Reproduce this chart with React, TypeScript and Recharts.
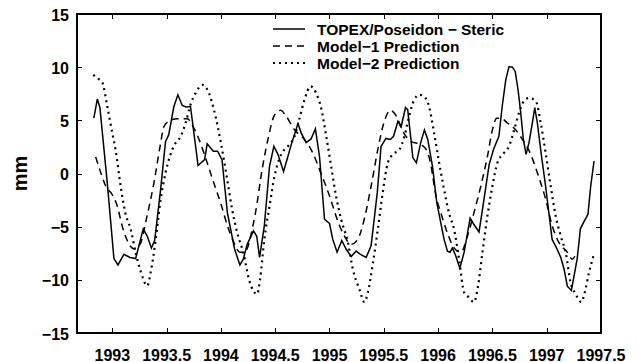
import React from 'react';
import { LineChart, Line, XAxis, YAxis, Legend } from 'recharts';

const topexYears = [
  1992.83, 1992.862, 1992.886, 1992.954, 1993.015, 1993.052, 1993.107, 1993.163, 1993.215, 1993.285,
  1993.322, 1993.36, 1993.39, 1993.445, 1993.49, 1993.52, 1993.567, 1993.604, 1993.644, 1993.68,
  1993.72, 1993.79, 1993.85, 1993.874, 1993.93, 1993.97, 1994.01, 1994.06, 1994.126, 1994.175,
  1994.206, 1994.242, 1994.3, 1994.33, 1994.356, 1994.4, 1994.448, 1994.488, 1994.525, 1994.577,
  1994.617, 1994.653, 1994.71, 1994.74, 1994.785, 1994.83, 1994.87, 1994.908, 1994.954, 1995.0,
  1995.03, 1995.07, 1995.113, 1995.153, 1995.2, 1995.245, 1995.285, 1995.337, 1995.383, 1995.44,
  1995.475, 1995.52, 1995.56, 1995.59, 1995.63, 1995.66, 1995.7, 1995.72, 1995.75, 1995.767,
  1995.8, 1995.84, 1995.874, 1995.905, 1995.948, 1995.988, 1996.018, 1996.055, 1996.086, 1996.11,
  1996.132, 1996.163, 1996.2, 1996.24, 1996.295, 1996.33, 1996.377, 1996.423, 1996.47, 1996.51,
  1996.56, 1996.59, 1996.623, 1996.653, 1996.684, 1996.71, 1996.736, 1996.76, 1996.785, 1996.81,
  1996.837, 1996.868, 1996.89, 1996.914, 1996.95, 1996.99, 1997.02, 1997.05, 1997.09, 1997.13,
  1997.16, 1997.19, 1997.227, 1997.258, 1997.28, 1997.297, 1997.31, 1997.34, 1997.38, 1997.405,
  1997.436,
];
const topexValues = [
  5.2, 7.0, 6.2, -0.9, -8.0, -8.6, -7.6, -7.9, -8.0, -5.2,
  -5.9, -7.0, -6.3, -1.5, 3.0, 3.65, 6.3, 7.4, 6.4, 6.25,
  6.3, 0.75, 1.3, 2.8, 2.1, 2.1, 1.3, -3.7, -7.1, -8.6,
  -8.06, -6.66, -5.4, -5.9, -7.9, -4.9, 0.7, 2.56, 1.8, 0.2,
  1.6, 2.9, 4.7, 3.8, 2.9, 3.25, 4.2, 1.6, -4.3, -4.7,
  -6.2, -7.4, -6.3, -7.1, -7.8, -7.3, -7.6, -7.9, -6.8, -1.8,
  2.56, 3.3, 3.2, 3.5, 4.9, 4.4, 6.2, 6.0, 3.2, 1.5,
  1.0, 2.9, 4.1, 3.2, 0.7, -2.75, -4.3, -6.2, -7.3, -7.4,
  -7.0, -7.75, -8.9, -7.4, -4.2, -4.8, -5.5, -2.4, 0.84, 2.25,
  3.5, 6.3, 8.8, 10.06, 10.0, 9.6, 7.9, 5.8, 3.2, 1.8,
  2.9, 4.75, 6.2, 4.75, 1.8, -1.2, -3.7, -6.2, -7.0, -7.9,
  -9.0, -10.6, -11.0, -9.3, -8.06, -6.5, -5.2, -4.6, -3.84, -1.2,
  1.16,
];

const model1Years = [
  1992.847, 1992.89, 1992.94, 1993.0, 1993.046, 1993.09, 1993.138, 1993.2, 1993.255, 1993.32,
  1993.383, 1993.44, 1993.475, 1993.52, 1993.6, 1993.69, 1993.75, 1993.81, 1993.874, 1993.935,
  1993.997, 1994.06, 1994.12, 1994.175, 1994.227, 1994.288, 1994.334, 1994.365, 1994.433, 1994.494,
  1994.55, 1994.6, 1994.678, 1994.77, 1994.846, 1994.92, 1995.0, 1995.077, 1995.138, 1995.2,
  1995.26, 1995.32, 1995.383, 1995.445, 1995.5, 1995.56, 1995.613, 1995.675, 1995.75, 1995.844,
  1995.905, 1995.935, 1995.98, 1996.025, 1996.086, 1996.147, 1996.21, 1996.27, 1996.33, 1996.393,
  1996.454, 1996.5, 1996.54, 1996.577, 1996.638, 1996.715, 1996.776, 1996.853, 1996.914, 1996.99,
  1997.05, 1997.113, 1997.19, 1997.236, 1997.267,
];
const model1Values = [
  1.56, 0.2, -1.2, -2.0, -3.06, -4.9, -6.3, -7.1, -6.66, -4.0,
  -0.9, 2.56, 4.4, 4.9, 5.16, 5.16, 4.3, 2.9, 1.0, -0.9,
  -2.75, -4.9, -6.5, -7.4, -7.3, -5.25, -2.75, -0.56, 3.2, 5.5,
  5.94, 5.4, 4.1, 3.2, 1.94, 0.06, -2.1, -4.5, -5.9, -6.66,
  -6.2, -4.3, -1.2, 2.25, 4.75, 5.94, 5.44, 3.97, 3.03, 2.72,
  1.94, 0.7, -2.1, -3.7, -5.6, -7.0, -7.4, -5.9, -3.7, -1.2,
  1.6, 4.1, 5.2, 5.2, 4.75, 4.1, 3.2, 1.8, 0.06, -2.4,
  -4.9, -6.5, -7.4, -8.06, -7.6,
];

const model2Years = [
  1992.825, 1992.862, 1992.908, 1992.954, 1993.0, 1993.03, 1993.077, 1993.12, 1993.17, 1993.215,
  1993.26, 1993.322, 1993.353, 1993.4, 1993.445, 1993.49, 1993.53, 1993.567, 1993.63, 1993.675,
  1993.72, 1993.767, 1993.83, 1993.89, 1993.936, 1994.0, 1994.058, 1994.104, 1994.15, 1994.21,
  1994.258, 1994.334, 1994.36, 1994.4, 1994.448, 1994.494, 1994.555, 1994.617, 1994.678, 1994.724,
  1994.77, 1994.825, 1994.877, 1994.923, 1994.97, 1995.015, 1995.06, 1995.107, 1995.17, 1995.215,
  1995.276, 1995.322, 1995.353, 1995.4, 1995.445, 1995.49, 1995.537, 1995.583, 1995.644, 1995.69,
  1995.736, 1995.78, 1995.828, 1995.87, 1995.917, 1995.963, 1996.01, 1996.055, 1996.1, 1996.147,
  1996.193, 1996.24, 1996.285, 1996.33, 1996.368, 1996.408, 1996.454, 1996.5, 1996.546, 1996.607,
  1996.653, 1996.7, 1996.745, 1996.79, 1996.837, 1996.9, 1996.945, 1996.99, 1997.037, 1997.083,
  1997.13, 1997.175, 1997.22, 1997.267, 1997.32, 1997.35, 1997.39, 1997.43,
];
const model2Values = [
  9.28, 8.97, 8.56, 6.3, 3.8, 2.25, -1.2, -3.7, -5.25, -7.44,
  -9.16, -10.56, -9.3, -6.2, -2.44, 0.06, 1.6, 2.6, 3.5, 4.75,
  6.47, 7.56, 8.34, 7.56, 6.0, 2.88, -0.56, -3.4, -5.56, -7.6,
  -9.94, -11.34, -10.0, -6.2, -3.06, -0.25, 1.8, 2.56, 3.5, 5.2,
  6.94, 8.2, 7.56, 6.16, 3.5, 0.7, -2.1, -4.3, -6.5, -9.0,
  -10.9, -12.1, -11.2, -8.4, -5.25, -1.8, 1.0, 1.8, 2.25, 3.5,
  5.5, 6.94, 7.4, 7.25, 6.3, 3.8, 1.0, -1.5, -3.7, -5.25,
  -8.06, -11.2, -11.66, -12.1, -10.56, -7.44, -4.0, -1.2, 1.0, 1.94,
  2.56, 4.1, 5.7, 6.8, 7.1, 6.8, 4.75, 1.94, -1.2, -4.0,
  -5.9, -7.44, -10.25, -11.34, -12.1, -11.2, -9.3, -7.75,
];

const xTicks = [1993, 1993.5, 1994, 1994.5, 1995, 1995.5, 1996, 1996.5, 1997, 1997.5];
const yTicks = [-15, -10, -5, 0, 5, 10, 15];
const xDomain: [number, number] = [1992.675, 1997.5];
const yDomain: [number, number] = [-15, 15];
const yAxisTitle = 'mm';
const seriesNames = ['TOPEX/Poseidon \u2212 Steric', 'Model\u22121 Prediction', 'Model\u22122 Prediction'];

const toPoints = (years: number[], values: number[]) =>
  years.map((year, i) => ({ year, value: values[i] }));

const topexData = toPoints(topexYears, topexValues);
const model1Data = toPoints(model1Years, model1Values);
const model2Data = toPoints(model2Years, model2Values);

// layout
const W = 638;
const H = 362;
const MARGIN = { top: 13, right: 36, bottom: 0, left: 17 };
const Y_AXIS_W = 60;
const X_AXIS_H = 29;
const TOP_AXIS_H = 1;
const RIGHT_AXIS_W = 1;
const PLOT = {
  left: MARGIN.left + Y_AXIS_W,
  top: MARGIN.top + TOP_AXIS_H,
  right: W - MARGIN.right - RIGHT_AXIS_W,
  bottom: H - MARGIN.bottom - X_AXIS_H,
};

const FONT = '"Liberation Sans", Arial, Helvetica, sans-serif';
const DASH = '7 5';
const DOT = '2 4';
const INK = '#000';
const FW = 2;
const TL = 5;

const legendItems = [
  { name: seriesNames[0], dash: undefined as string | undefined, width: 1.5 },
  { name: seriesNames[1], dash: DASH, width: 1.5 },
  { name: seriesNames[2], dash: DOT, width: 2.2 },
];

const fmt = (v: number) => String(v).replace('-', '\u2212');

const renderLegend = () => (
  <div style={{ fontFamily: FONT, fontWeight: 'bold', fontSize: 15.5, color: INK }}>
    {legendItems.map((it) => (
      <div key={it.name} style={{ display: 'flex', alignItems: 'center', height: 17, whiteSpace: 'nowrap' }}>
        <svg width={32} height={4} style={{ display: 'block' }}>
          <line x1={0} y1={2} x2={32} y2={2} stroke={INK} strokeWidth={it.width} strokeDasharray={it.dash} />
        </svg>
        <span style={{ marginLeft: 12, lineHeight: '17px' }}>{it.name}</span>
      </div>
    ))}
  </div>
);

const textStyle = { fontFamily: FONT, fontWeight: 'bold' as const };

const BottomTick = (props: any) => {
  const { x, y, payload } = props;
  return (
    <text x={x} y={y + 27.5} textAnchor="middle" fill={INK} fontSize={16} style={textStyle}>
      {payload.value}
    </text>
  );
};
const LeftTick = (props: any) => {
  const { x, y, payload } = props;
  return (
    <text x={x - 8} y={y + 6.5} textAnchor="end" fill={INK} fontSize={16} style={textStyle}>
      {fmt(payload.value)}
    </text>
  );
};
const NoTick = () => <g />;

const AxisTitle = (props: any) => {
  const vb = props.viewBox;
  if (!vb) return null;
  const cx = vb.x + 4;
  const cy = vb.y + vb.height / 2;
  return (
    <text
      x={cx}
      y={cy}
      dy="0.3em"
      textAnchor="middle"
      transform={`rotate(-90, ${cx}, ${cy})`}
      fill={INK}
      fontSize={20}
      style={textStyle}
    >
      {yAxisTitle}
    </text>
  );
};

const xPos = (v: number) =>
  PLOT.left + ((v - xDomain[0]) / (xDomain[1] - xDomain[0])) * (PLOT.right - PLOT.left);
const yPos = (v: number) =>
  PLOT.bottom - ((v - yDomain[0]) / (yDomain[1] - yDomain[0])) * (PLOT.bottom - PLOT.top);

// Frame as plain HTML boxes (box + inward ticks), placed from the same domains and tick lists
const bar = (left: number, top: number, width: number, height: number, key: string) => (
  <div
    key={key}
    style={{
      position: 'absolute',
      left,
      top,
      width,
      height,
      background: INK,
      pointerEvents: 'none',
    }}
  />
);

const FrameOverlay = () => {
  const pw = PLOT.right - PLOT.left;
  const ph = PLOT.bottom - PLOT.top;
  const parts: React.ReactNode[] = [];
  parts.push(bar(PLOT.left - FW / 2, PLOT.top - FW / 2, pw + FW, FW, 'top'));
  parts.push(bar(PLOT.left - FW / 2, PLOT.bottom - FW / 2, pw + FW, FW, 'bottom'));
  parts.push(bar(PLOT.left - FW / 2, PLOT.top - FW / 2, FW, ph + FW, 'left'));
  parts.push(bar(PLOT.right - FW / 2, PLOT.top - FW / 2, FW, ph + FW, 'right'));
  xTicks.forEach((t) => {
    const x = Math.round(xPos(t));
    parts.push(bar(x, PLOT.bottom - TL, 1, TL, `xb${t}`));
    parts.push(bar(x, PLOT.top, 1, TL, `xt${t}`));
  });
  yTicks.forEach((t) => {
    const y = Math.round(yPos(t));
    parts.push(bar(PLOT.left, y, TL, 1, `yl${t}`));
    parts.push(bar(PLOT.right - TL, y, TL, 1, `yr${t}`));
  });
  return <>{parts}</>;
};

export default function App() {
  return (
    <div style={{ position: 'fixed', left: 0, top: 0, width: W, height: H, background: '#fff' }}>
      <LineChart width={W} height={H} margin={MARGIN}>
        <XAxis
          xAxisId="b"
          dataKey="year"
          type="number"
          domain={xDomain}
          ticks={xTicks}
          interval={0}
          allowDataOverflow
          height={X_AXIS_H}
          tickSize={0}
          tickMargin={0}
          axisLine={false}
          tickLine={false}
          tick={BottomTick}
        />
        <XAxis
          xAxisId="t"
          orientation="top"
          dataKey="year"
          type="number"
          domain={xDomain}
          ticks={xTicks}
          interval={0}
          allowDataOverflow
          height={TOP_AXIS_H}
          tickSize={0}
          tickMargin={0}
          axisLine={false}
          tickLine={false}
          tick={NoTick}
        />
        <YAxis
          yAxisId="l"
          type="number"
          domain={yDomain}
          ticks={yTicks}
          interval={0}
          allowDataOverflow
          width={Y_AXIS_W}
          tickSize={0}
          tickMargin={0}
          axisLine={false}
          tickLine={false}
          tick={LeftTick}
          label={AxisTitle}
        />
        <YAxis
          yAxisId="r"
          orientation="right"
          type="number"
          domain={yDomain}
          ticks={yTicks}
          interval={0}
          allowDataOverflow
          width={RIGHT_AXIS_W}
          tickSize={0}
          tickMargin={0}
          axisLine={false}
          tickLine={false}
          tick={NoTick}
        />
        <Legend
          content={renderLegend}
          layout="horizontal"
          verticalAlign="middle"
          align="center"
          wrapperStyle={{ left: 273, top: 20.5, width: 'auto' }}
        />
        <Line
          xAxisId="b"
          yAxisId="l"
          data={topexData}
          dataKey="value"
          name={seriesNames[0]}
          type="linear"
          stroke={INK}
          strokeWidth={1.5}
          dot={false}
          isAnimationActive={false}
        />
        <Line
          xAxisId="b"
          yAxisId="l"
          data={model1Data}
          dataKey="value"
          name={seriesNames[1]}
          type="monotone"
          stroke={INK}
          strokeWidth={1.5}
          strokeDasharray={DASH}
          dot={false}
          isAnimationActive={false}
        />
        <Line
          xAxisId="t"
          yAxisId="r"
          data={model2Data}
          dataKey="value"
          name={seriesNames[2]}
          type="monotone"
          stroke={INK}
          strokeWidth={2.2}
          strokeDasharray={DOT}
          dot={false}
          isAnimationActive={false}
        />
      </LineChart>
      <FrameOverlay />
    </div>
  );
}
